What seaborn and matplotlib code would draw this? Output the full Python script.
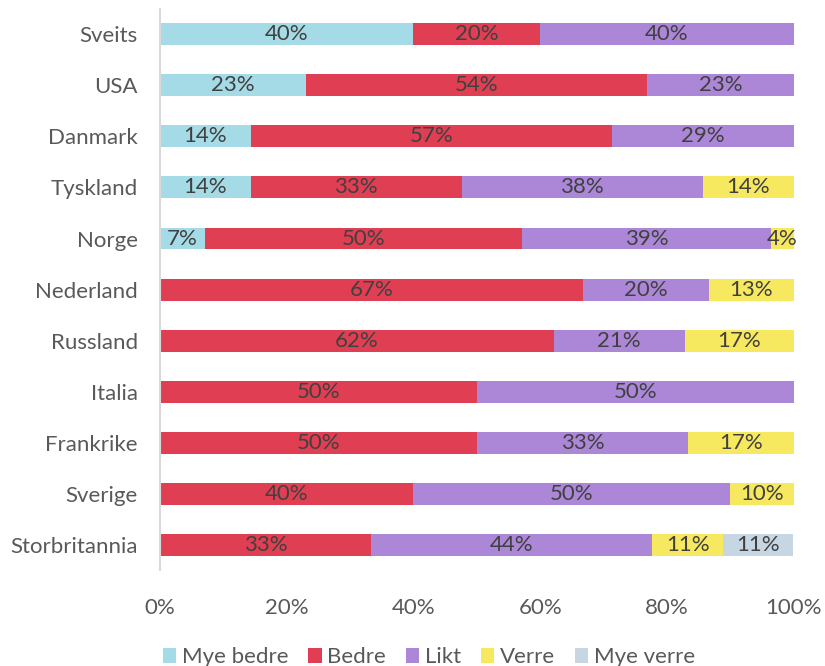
import numpy as np
import pandas as pd
import matplotlib
matplotlib.use("Agg")
import matplotlib.pyplot as plt
import seaborn as sns
from matplotlib.patches import Patch

# data (percent of answers per country)
countries = ["Sveits", "USA", "Danmark", "Tyskland", "Norge", "Nederland",
             "Russland", "Italia", "Frankrike", "Sverige", "Storbritannia"]
mye_bedre = [40.0, 23.1, 14.3, 14.3, 7.1, 0, 0, 0, 0, 0, 0]
bedre = [20.0, 53.8, 57.1, 33.3, 50.0, 66.7, 62.1, 50.0, 50.0, 40.0, 33.3]
likt = [40.0, 23.1, 28.6, 38.1, 39.3, 20.0, 20.7, 50.0, 33.3, 50.0, 44.4]
verre = [0, 0, 0, 14.3, 3.6, 13.3, 17.2, 0, 16.7, 10.0, 11.1]
mye_verre = [0, 0, 0, 0, 0, 0, 0, 0, 0, 0, 11.1]

series_names = ["Mye bedre", "Bedre", "Likt", "Verre", "Mye verre"]
series_colors = ["#A5DBE6", "#E03E52", "#AC87D8", "#F6E95F", "#C6D6E3"]

sns.set_style("white")
plt.rcParams["font.family"] = ["Lato", "DejaVu Sans"]

df = pd.DataFrame({"Land": countries, "Mye bedre": mye_bedre, "Bedre": bedre,
                   "Likt": likt, "Verre": verre, "Mye verre": mye_verre})
cum = df[series_names].cumsum(axis=1)

fig = plt.figure(figsize=(8.25, 6.66), dpi=100)
ax = fig.add_axes([0.194, 0.1434, 0.768, 0.8436])

# stacked bars: draw cumulative totals from the last series to the first
for name, color in reversed(list(zip(series_names, series_colors))):
    sns.barplot(x=cum[name], y=df["Land"], orient="h", color=color,
                width=0.43, ax=ax, linewidth=0, saturation=1)

# segment labels
for i in range(len(countries)):
    for name in series_names:
        val = df[name][i]
        if val <= 0:
            continue
        center = cum[name][i] - val / 2
        ax.text(center, i, f"{round(val)}%", ha="center", va="center",
                fontsize=16, color="#404040")

ax.set_xlim(0, 100)
ax.set_xticks([0, 20, 40, 60, 80, 100])
ax.set_xticklabels([f"{t}%" for t in [0, 20, 40, 60, 80, 100]])
ax.set_xlabel("")
ax.set_ylabel("")
ax.tick_params(axis="both", length=0, labelsize=16, colors="#595959")
ax.tick_params(axis="x", pad=20)
ax.tick_params(axis="y", pad=16)
for side in ["top", "right", "bottom"]:
    ax.spines[side].set_visible(False)
ax.spines["left"].set_color("#D9D9D9")
ax.spines["left"].set_linewidth(1.5)

handles = [Patch(facecolor=c, edgecolor="none") for c in series_colors]
fig.legend(handles, series_names, loc="lower center", ncol=5, frameon=False,
           bbox_to_anchor=(0.52, -0.032), fontsize=16, handlelength=0.6,
           handleheight=0.6, handletextpad=0.25, columnspacing=0.9,
           labelcolor="#595959")

fig.savefig("out.png", dpi=100)
